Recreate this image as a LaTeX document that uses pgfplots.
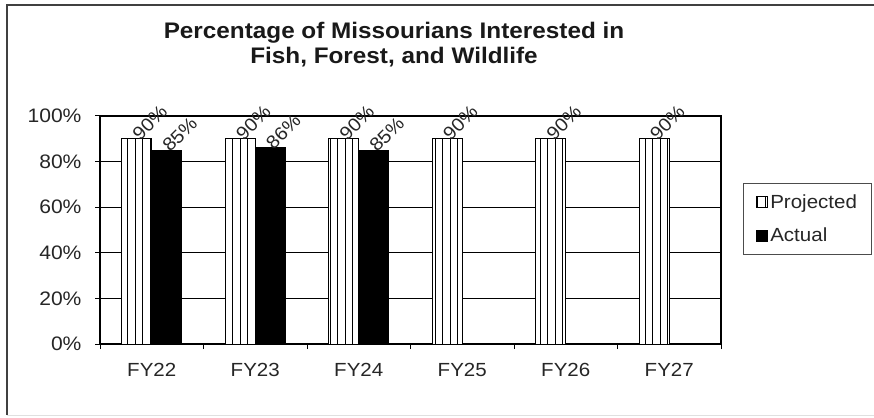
\documentclass[border=0pt]{standalone}
\usepackage{fontspec}
\setmainfont{Liberation Sans}[FakeStretch=1.08]
\usepackage{pgfplots}
\pgfplotsset{compat=1.18}
\usetikzlibrary{patterns.meta}

\begin{document}
\begin{tikzpicture}[x=1pt,y=1pt]
\useasboundingbox (0,0) rectangle (874,417);
% frame round the whole chart
\draw[line width=1.5pt, black!75] (7,2) -- (7,412) -- (874,412);
\draw[black!12] (7,2) -- (874,2);
\node[font=\fontsize{22.5}{25}\selectfont\bfseries, align=center, text=black!90] at (394,372.5)
  {Percentage of Missourians Interested in\\Fish, Forest, and Wildlife};

\begin{axis}[
    at={(100pt,73pt)}, anchor=south west,
    scale only axis, width=621pt, height=228pt,
    ybar=0pt, bar width=30pt,
    xmin=-0.5, xmax=5.5, ymin=0, ymax=100,
    xtick={0,...,5},
    xticklabels={FY22,FY23,FY24,FY25,FY26,FY27},
    major x tick style={draw=none},
    minor xtick={-0.5,0.5,...,5.5},
    ytick={0,20,...,100},
    yticklabels={0\%,20\%,40\%,60\%,80\%,100\%},
    tick align=outside, tick pos=left,
    major tick length=5pt, minor tick length=5pt,
    tick style={black, line width=1pt},
    ymajorgrids, grid style={black, line width=1pt},
    axis line style={line width=1.2pt},
    /pgf/number format/assume math mode=true,
    tick label style={text=black!85},
    xticklabel style={font=\fontsize{19}{21}\selectfont, yshift=-11pt},
    yticklabel style={font=\fontsize{19.5}{21}\selectfont, xshift=-10pt},
    nodes near coords={\pgfmathprintnumber{\pgfplotspointmeta}\%},
    every node near coord/.append style={rotate=45, anchor=west, inner sep=0pt,
      yshift=2pt, font=\fontsize{18.5}{20}\selectfont, text=black!85},
    legend style={at={(1.0354,0.706)}, anchor=north west, draw=black!70, line width=1pt,
      font=\fontsize{19}{21}\selectfont, text=black!85,
      inner xsep=13pt, inner ysep=9pt, row sep=14pt},
    legend cell align=left,
    legend image code/.code={\draw[#1, line width=0.8pt] (0pt,-5.5pt) rectangle (11pt,5.5pt);},
]
\addplot[draw=black, line width=1pt, fill=white,
  postaction={pattern={Lines[angle=90, distance=7.5pt, line width=0.9pt]}}]
  coordinates {(0,90) (1,90) (2,90) (3,90) (4,90) (5,90)};
\addlegendentry{Projected}
\addplot[draw=black, line width=1pt, fill=black]
  coordinates {(0,85) (1,86) (2,85)};
\addlegendentry{Actual}
\end{axis}
\end{tikzpicture}
\end{document}
